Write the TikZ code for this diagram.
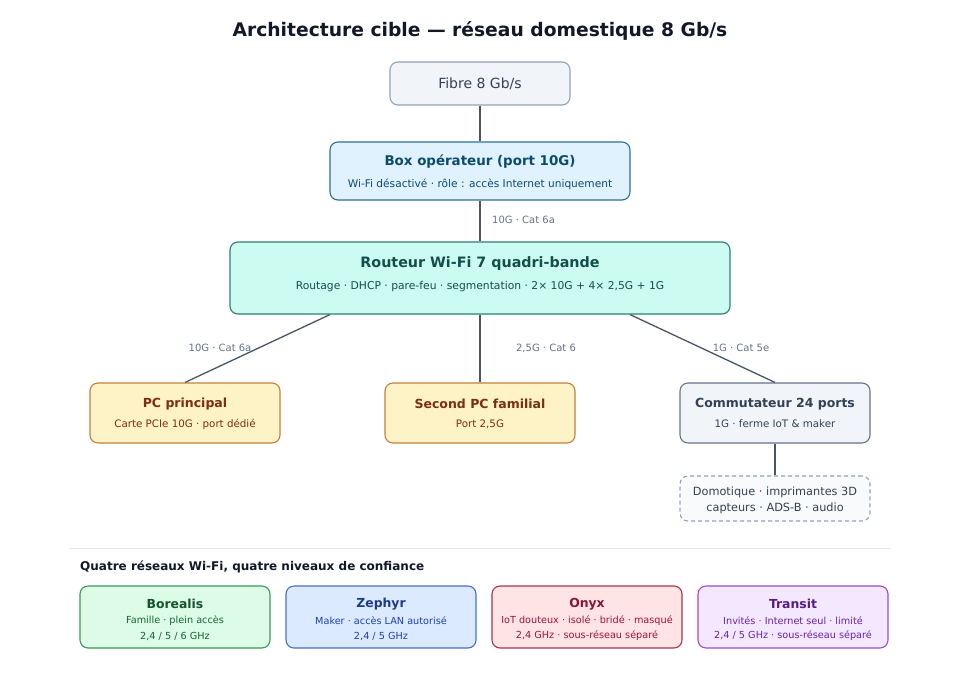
\documentclass[tikz,border=0pt]{standalone}
\usepackage{fontspec}
\setmainfont{DejaVu Sans}
\usetikzlibrary{calc}
\definecolor{titlec}{HTML}{111827}
\definecolor{wire}{HTML}{4B5563}
\definecolor{lblc}{HTML}{64748B}
\definecolor{slatef}{HTML}{F1F5F9}
\definecolor{slated}{HTML}{94A3B8}
\definecolor{slatet}{HTML}{334155}
\definecolor{slated2}{HTML}{64748B}
\definecolor{bluef}{HTML}{E0F2FE}
\definecolor{blued}{HTML}{2F6F93}
\definecolor{bluet}{HTML}{0C4A6E}
\definecolor{tealf}{HTML}{CCFBF1}
\definecolor{teald}{HTML}{2F7F75}
\definecolor{tealt}{HTML}{134E4A}
\definecolor{amberf}{HTML}{FEF3C7}
\definecolor{amberd}{HTML}{C2803A}
\definecolor{ambert}{HTML}{7C2D12}
\definecolor{dashf}{HTML}{F8FAFC}
\definecolor{sepc}{HTML}{E2E8F0}
\definecolor{greenf}{HTML}{DCFCE7}
\definecolor{greend}{HTML}{3A9A5B}
\definecolor{greent}{HTML}{14532D}
\definecolor{greens}{HTML}{166534}
\definecolor{zf}{HTML}{DBEAFE}
\definecolor{zd}{HTML}{4A6FC4}
\definecolor{zt}{HTML}{1E3A8A}
\definecolor{zs}{HTML}{1E40AF}
\definecolor{of}{HTML}{FFE4E6}
\definecolor{od}{HTML}{A6354F}
\definecolor{ot}{HTML}{881337}
\definecolor{os}{HTML}{9F1239}
\definecolor{tf}{HTML}{F3E8FF}
\definecolor{td}{HTML}{9A4EC9}
\definecolor{tt}{HTML}{581C87}
\definecolor{ts}{HTML}{6B21A8}
\tikzset{
  box/.style={draw, rounded corners=8pt, line width=1.1pt, inner sep=0pt},
  wirel/.style={draw=wire, line width=1.3pt},
  lbl/.style={text=lblc, font=\fontsize{10}{12}\selectfont, inner sep=0pt},
  ttl/.style={font=\bfseries\fontsize{12.5}{15}\selectfont, inner sep=0pt},
  sub/.style={font=\fontsize{10.3}{12}\selectfont, inner sep=0pt},
  wt/.style={font=\bfseries\fontsize{12.4}{15}\selectfont, inner sep=0pt},
  ws/.style={font=\fontsize{9.7}{11}\selectfont, inner sep=0pt},
}
\begin{document}
\begin{tikzpicture}[x=1pt,y=-1pt]
\useasboundingbox[fill=white] (0,0) rectangle (960,680);

\node[font=\bfseries\fontsize{18.7}{22}\selectfont, text=titlec, inner sep=0pt] (title) at (480,31) {Architecture cible — réseau domestique 8 Gb/s};

% Fibre
\node[box, fill=slatef, draw=slated, minimum width=180pt, minimum height=43pt] (fibre) at (480,83.5) {};
\node[font=\fontsize{14}{16}\selectfont, text=slatet, inner sep=0pt] (fibret) at (480,84) {Fibre 8 Gb/s};

% Box
\node[box, fill=bluef, draw=blued, minimum width=300pt, minimum height=58pt] (boxop) at (480,171) {};
\node[font=\bfseries\fontsize{13.4}{16}\selectfont, text=bluet, inner sep=0pt] (boxopt) at (480,162) {Box opérateur (port 10G)};
\node[font=\fontsize{10.6}{12}\selectfont, text=bluet, inner sep=0pt] (boxops) at (480,184) {Wi-Fi désactivé · rôle : accès Internet uniquement};

% Router
\node[box, fill=tealf, draw=teald, minimum width=500pt, minimum height=72pt] (router) at (480,278) {};
\node[font=\bfseries\fontsize{14.3}{18}\selectfont, text=tealt, inner sep=0pt] (routert) at (480,264) {Routeur Wi-Fi 7 quadri-bande};
\node[font=\fontsize{10.75}{12}\selectfont, text=tealt, inner sep=0pt] (routers) at (480,287) {Routage · DHCP · pare-feu · segmentation · 2× 10G + 4× 2,5G + 1G};

% PCs
\node[box, fill=amberf, draw=amberd, minimum width=190pt, minimum height=60pt] (pc1) at (185,413) {};
\node[ttl, text=ambert] (pc1t) at (185,404) {PC principal};
\node[sub, text=ambert] (pc1s) at (185,424) {Carte PCIe 10G · port dédié};

\node[box, fill=amberf, draw=amberd, minimum width=190pt, minimum height=60pt] (pc2) at (480,413) {};
\node[ttl, text=ambert] (pc2t) at (480,404) {Second PC familial};
\node[sub, text=ambert] (pc2s) at (480,424) {Port 2,5G};

\node[box, fill=slatef, draw=slated2, minimum width=190pt, minimum height=60pt] (sw) at (775,413) {};
\node[ttl, text=slatet] (swt) at (775,404) {Commutateur 24 ports};
\node[sub, text=slatet] (sws) at (775,424) {1G · ferme IoT \& maker};

\node[box, fill=dashf, draw=slated, dashed, dash pattern=on 4pt off 3pt, minimum width=190pt, minimum height=45pt] (iot) at (775,498.5) {};
\node[font=\fontsize{11.3}{13}\selectfont, text=slatet, inner sep=0pt] (iot1) at (775,492) {Domotique · imprimantes 3D};
\node[font=\fontsize{11.3}{13}\selectfont, text=slatet, inner sep=0pt] (iot2) at (775,508) {capteurs · ADS-B · audio};

% connectors
\draw[wirel] (fibre.south) -- (boxop.north);
\draw[wirel] (boxop.south) -- (router.north);
\node[lbl, anchor=west] (l1) at (492,220) {10G · Cat 6a};
\draw[wirel] ([xshift=-150pt]router.south) -- (pc1.north);
\node[lbl] (l2) at (220,348) {10G · Cat 6a};
\draw[wirel] (router.south) -- (pc2.north);
\node[lbl] (l3) at (546,348) {2,5G · Cat 6};
\draw[wirel] ([xshift=150pt]router.south) -- (sw.north);
\node[lbl] (l4) at (741,348) {1G · Cat 5e};
\draw[wirel] (sw.south) -- (iot.north);

% separator
\coordinate (sepa) at (70,548);
\coordinate (sepb) at (890,548);
\draw[draw=sepc, line width=1pt] (sepa) -- (sepb);
\node[font=\bfseries\fontsize{12}{14}\selectfont, text=titlec, anchor=west, inner sep=0pt] (sect) at (80,567) {Quatre réseaux Wi-Fi, quatre niveaux de confiance};

% wifi boxes
\node[box, fill=greenf, draw=greend, minimum width=190pt, minimum height=62pt] (bor) at (175,617) {};
\node[wt, text=greent] (bort) at (175,604) {Borealis};
\node[ws, text=greens] (bor1) at (175,621) {Famille · plein accès};
\node[ws, text=greens] (bor2) at (175,636) {2,4 / 5 / 6 GHz};

\node[box, fill=zf, draw=zd, minimum width=190pt, minimum height=62pt] (zep) at (381,617) {};
\node[wt, text=zt] (zept) at (381,604) {Zephyr};
\node[ws, text=zs] (zep1) at (381,621) {Maker · accès LAN autorisé};
\node[ws, text=zs] (zep2) at (381,636) {2,4 / 5 GHz};

\node[box, fill=of, draw=od, minimum width=190pt, minimum height=62pt] (onyx) at (587,617) {};
\node[wt, text=ot] (onyxt) at (587,604) {Onyx};
\node[ws, text=os] (onyx1) at (587,621) {IoT douteux · isolé · bridé · masqué};
\node[ws, text=os] (onyx2) at (587,636) {2,4 GHz · sous-réseau séparé};

\node[box, fill=tf, draw=td, minimum width=190pt, minimum height=62pt] (tra) at (793,617) {};
\node[wt, text=tt] (trat) at (793,604) {Transit};
\node[ws, text=ts] (tra1) at (793,621) {Invités · Internet seul · limité};
\node[ws, text=ts] (tra2) at (793,636) {2,4 / 5 GHz · sous-réseau séparé};
\end{tikzpicture}
\end{document}
